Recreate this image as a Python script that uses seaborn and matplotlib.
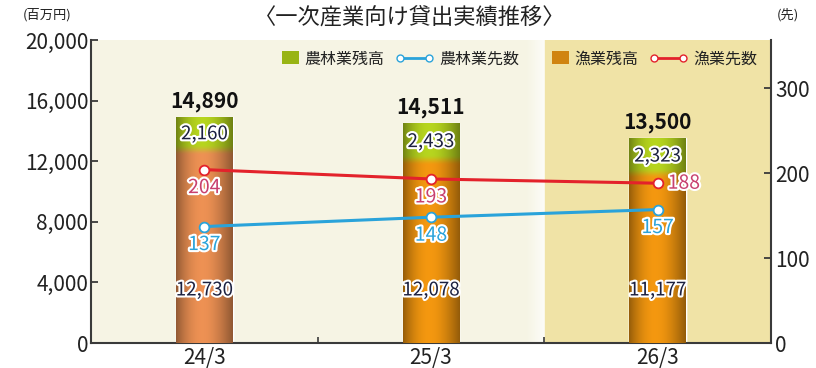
import numpy as np
import pandas as pd
import matplotlib
matplotlib.use("Agg")
import matplotlib.pyplot as plt
import matplotlib.patheffects as pe
import matplotlib.patches as mpatches
from matplotlib.lines import Line2D
from matplotlib.legend_handler import HandlerPatch
from matplotlib.colors import to_rgb
import seaborn as sns

# --- data -------------------------------------------------------------
periods = ["24/3", "25/3", "26/3"]
agri_balance = [2160, 2433, 2323]        # 農林業残高 (百万円)
fish_balance = [12730, 12078, 11177]     # 漁業残高 (百万円)
total_balance = [14890, 14511, 13500]    # 合計残高 (百万円)
agri_count = [137, 148, 157]             # 農林業先数 (先)
fish_count = [204, 193, 188]             # 漁業先数 (先)
left_ticks = [0, 4000, 8000, 12000, 16000, 20000]
right_ticks = [0, 100, 200, 300]

# --- style ------------------------------------------------------------
sns.set_theme(style="ticks")
plt.rcParams["font.family"] = ["Noto Sans CJK JP", "DejaVu Sans"]

GREEN = "#a6c21c"
ORANGE = ["#d8844c", "#de8a0e", "#de8a0e"]
BLUE = "#2aa3da"
RED = "#e3222b"
RED_TXT = "#c8406e"
NAVY = "#1c2140"
SPINE = "#3a3a3a"

fig = plt.figure(figsize=(8.16, 3.68), dpi=100)
ax = fig.add_axes([91 / 816, 25 / 368, 680 / 816, 303 / 368])
ax.set_facecolor("#f6f4e4")

# shaded band for the latest period, with a soft light edge before it
ax.axvspan(1.5, 2.5, color="#f0e3a6", zorder=0, lw=0)
glow = np.linspace(0, 1, 64)[None, :, None] * np.ones((2, 64, 1))
glow_img = np.concatenate([np.ones((2, 64, 3)), glow * 0.75], axis=2)
ax.imshow(glow_img, extent=[1.42, 1.5, 0, 20000], aspect="auto", zorder=0.5,
          interpolation="bilinear")

# --- stacked bars -----------------------------------------------------
df = pd.DataFrame({"period": periods, "total": total_balance,
                   "fish": fish_balance, "agri": agri_balance})
sns.barplot(data=df, x="period", y="total", color=GREEN, width=0.25,
            saturation=1, ax=ax, zorder=2)
sns.barplot(data=df, x="period", y="fish", color=ORANGE[1], width=0.25,
            saturation=1, ax=ax, zorder=2)

# cylinder-like shading painted over each bar
total_bars = ax.containers[0]
for i, bar in enumerate(total_bars):
    x0, w = bar.get_x(), bar.get_width()
    top, split = total_balance[i], fish_balance[i]
    nrow, ncol = 200, 60
    yv = top * (1 - (np.arange(nrow) + 0.5) / nrow)
    wgt = np.clip((yv - (split - 350)) / 700, 0, 1)
    wgt = wgt * wgt * (3 - 2 * wgt)
    col = (np.outer(wgt, to_rgb(GREEN)) + np.outer(1 - wgt, to_rgb(ORANGE[i])))
    t = (np.arange(ncol) + 0.5) / ncol
    shade = 0.66 + 0.44 * np.sin(np.pi * t ** 0.9)
    img = np.clip(col[:, None, :] * shade[None, :, None], 0, 1)
    im = ax.imshow(img, extent=[x0, x0 + w, 0, top], aspect="auto",
                   zorder=3, interpolation="bilinear")
    im.set_clip_path(bar)

outline = [pe.withStroke(linewidth=3, foreground="white")]
for i in range(len(periods)):
    ax.text(i, total_balance[i] + 1050, f"{total_balance[i]:,}", ha="center",
            va="center", fontsize=15, fontweight="bold", color="#111111", zorder=6)
    ax.text(i, fish_balance[i] + agri_balance[i] / 2, f"{agri_balance[i]:,}",
            ha="center", va="center", fontsize=13.5, color=NAVY, zorder=6,
            path_effects=outline)
    ax.text(i, 3500, f"{fish_balance[i]:,}", ha="center", va="center",
            fontsize=13.5, color=NAVY, zorder=6, path_effects=outline)

ax.set_xlim(-0.5, 2.5)
ax.set_ylim(0, 20000)
ax.set_yticks(left_ticks)
ax.set_yticklabels([f"{v:,}" for v in left_ticks])
ax.set_xticks(range(len(periods)))
ax.set_xticklabels(periods)
ax.set_xticks([0.5, 1.5], minor=True)
ax.set_xlabel("")
ax.set_ylabel("")
ax.tick_params(axis="x", which="major", length=0, labelsize=15, pad=3,
               colors="#222222")
ax.tick_params(axis="x", which="minor", direction="in", length=4, width=1.2,
               color=SPINE)
ax.tick_params(axis="y", direction="in", length=5, width=1.3, color=SPINE,
               labelsize=15, labelcolor="#222222", pad=2)
for s in ["top", "right"]:
    ax.spines[s].set_visible(False)
for s in ["left", "bottom"]:
    ax.spines[s].set_color(SPINE)
    ax.spines[s].set_linewidth(1.5)

# --- counts on the secondary axis ------------------------------------
ax2 = ax.twinx()
xpos = list(range(len(periods)))
sns.lineplot(x=xpos, y=fish_count, ax=ax2, color=RED, lw=2.2, marker="o",
             markersize=7, markerfacecolor="white", markeredgecolor=RED,
             markeredgewidth=1.3, zorder=5)
sns.lineplot(x=xpos, y=agri_count, ax=ax2, color=BLUE, lw=2.2, marker="o",
             markersize=7, markerfacecolor="white", markeredgecolor=BLUE,
             markeredgewidth=1.3, zorder=5)
for i in xpos:
    if i == len(periods) - 1:
        ax2.annotate(f"{fish_count[i]}", (i, fish_count[i]), xytext=(10, 0),
                     textcoords="offset pixels", ha="left", va="center",
                     fontsize=14, color=RED_TXT, path_effects=outline, zorder=7)
    else:
        ax2.annotate(f"{fish_count[i]}", (i, fish_count[i]), xytext=(0, -18),
                     textcoords="offset pixels", ha="center", va="center",
                     fontsize=14, color=RED_TXT, path_effects=outline, zorder=7)
    ax2.annotate(f"{agri_count[i]}", (i, agri_count[i]), xytext=(0, -18),
                 textcoords="offset pixels", ha="center", va="center",
                 fontsize=14, color=BLUE, path_effects=outline, zorder=7)

ax2.set_xlim(-0.5, 2.5)
ax2.set_ylim(0, 356.5)
ax2.set_yticks(right_ticks)
ax2.set_ylabel("")
ax2.tick_params(axis="y", direction="in", length=5, width=1.3, color=SPINE,
                labelsize=15, labelcolor="#222222", pad=3)
for s in ["top", "left", "bottom"]:
    ax2.spines[s].set_visible(False)
ax2.spines["right"].set_color(SPINE)
ax2.spines["right"].set_linewidth(1.5)


# --- legend -------------------------------------------------------------
def square_patch(legend, orig_handle, xdescent, ydescent, width, height, fontsize):
    s = height * 1.15
    return mpatches.Rectangle((-xdescent + width - s * 1.3, -ydescent + (height - s) / 2),
                              s * 1.3, s)


handles = [
    mpatches.Patch(facecolor="#98b414", edgecolor="none"),
    Line2D([], [], color=BLUE, lw=2, marker="o", markersize=5,
           markerfacecolor="white", markeredgecolor=BLUE),
    mpatches.Patch(facecolor="#d08410", edgecolor="none"),
    Line2D([], [], color=RED, lw=2, marker="o", markersize=5,
           markerfacecolor="white", markeredgecolor=RED),
]
labels = ["農林業残高", "農林業先数", "漁業残高", "漁業先数"]
ax2.legend(handles, labels, ncol=4, frameon=False, loc="center",
           bbox_to_anchor=(509 / 816, 1 - 59 / 368), bbox_transform=fig.transFigure,
           fontsize=11.5, numpoints=2, handlelength=2.4, handletextpad=0.35,
           columnspacing=0.7, labelcolor="#222222",
           handler_map={mpatches.Patch: HandlerPatch(patch_func=square_patch)})

# --- title and unit labels -------------------------------------------
fig.text(410 / 816, 1 - 18 / 368, "〈一次産業向け貸出実績推移〉", ha="center",
         va="center", fontsize=16, color="#222222")
fig.text(47 / 816, 1 - 15 / 368, "(百万円)", ha="center", va="center",
         fontsize=9.5, color="#222222")
fig.text(788 / 816, 1 - 15 / 368, "(先)", ha="center", va="center",
         fontsize=9.5, color="#222222")

fig.savefig("out.png", dpi=100, facecolor="white")
